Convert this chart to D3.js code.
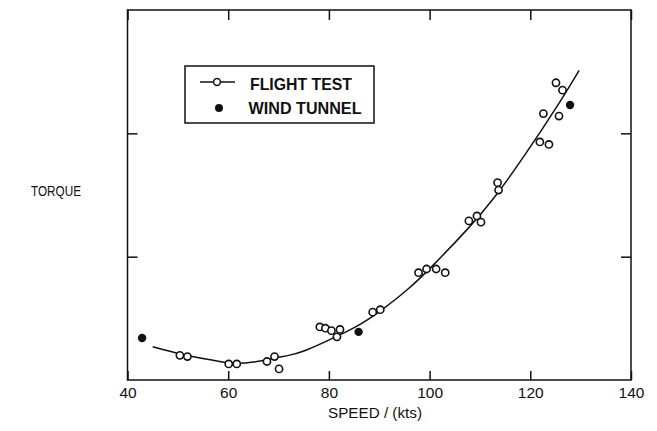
<!DOCTYPE html>
<html>
<head>
<meta charset="utf-8">
<script src="https://cdn.jsdelivr.net/npm/d3@7"></script>
<style>
  body { margin: 0; background: white; }
  text { font-family: "Liberation Sans", Arial, sans-serif; fill: #111; }
</style>
</head>
<body>
<div id="container"></div>
<script>
let w = 657;
let h = 431;

// data
let xTicks = [40, 60, 80, 100, 120, 140];
let yTicks = [1, 2];

let flightSpeed = [50.4, 51.9, 60.1, 61.7, 67.7, 69.2, 70.1, 78.2, 79.3, 80.5, 82.2, 81.6,
  88.7, 90.2, 97.8, 99.4, 101.3, 103.1, 107.8, 109.4, 110.2, 113.5, 113.7,
  121.9, 123.7, 122.6, 125.7, 125.1, 126.4];
let flightTorque = [0.20, 0.19, 0.13, 0.13, 0.15, 0.19, 0.09, 0.43, 0.42, 0.40, 0.41, 0.35,
  0.55, 0.57, 0.87, 0.90, 0.90, 0.87, 1.29, 1.33, 1.28, 1.60, 1.54,
  1.93, 1.91, 2.16, 2.14, 2.41, 2.35];

let tunnelSpeed = [42.9, 85.9, 127.9];
let tunnelTorque = [0.34, 0.39, 2.23];

let curveSpeed = [45, 50.4, 57, 60.8, 65, 69.2, 72.3, 74.9, 78.2, 85.7, 90.3, 95.7, 100.5, 108, 112.6, 118.6, 126.5, 129.7];
let curveTorque = [0.27, 0.21, 0.16, 0.13, 0.14, 0.18, 0.20, 0.23, 0.29, 0.43, 0.56, 0.73, 0.92, 1.24, 1.46, 1.80, 2.29, 2.51];

// plot box
let plotLeft = 127.5, plotRight = 631, plotTop = 10, plotBottom = 380;

let viz = d3.select("#container")
  .append("svg")
    .attr("width", w)
    .attr("height", h)
    .style("background-color", "white");

let xScale = d3.scaleLinear().domain([40, 140]).range([plotLeft, plotRight]);
let yScale = d3.scaleLinear().domain([0, 3]).range([plotBottom, plotTop]);

// frame
viz.append("rect")
  .attr("x", plotLeft).attr("y", plotTop)
  .attr("width", plotRight - plotLeft).attr("height", plotBottom - plotTop)
  .attr("fill", "none").attr("stroke", "#111").attr("stroke-width", 1.5);

// bottom axis, ticks point inward
let xAxis = d3.axisBottom(xScale).tickValues(xTicks).tickSize(-9).tickFormat(d3.format("d"));
let xAxisGroup = viz.append("g").attr("class", "xaxis")
  .attr("transform", "translate(0," + plotBottom + ")")
  .call(xAxis);
// top axis
viz.append("g").attr("class", "xaxis-top")
  .attr("transform", "translate(0," + plotTop + ")")
  .call(d3.axisTop(xScale).tickValues(xTicks).tickSize(-10).tickFormat(""));
// left and right
viz.append("g")
  .attr("transform", "translate(" + plotLeft + ",0)")
  .call(d3.axisLeft(yScale).tickValues(yTicks).tickSize(-10).tickFormat(""));
viz.append("g")
  .attr("transform", "translate(" + plotRight + ",0)")
  .call(d3.axisRight(yScale).tickValues(yTicks).tickSize(-10).tickFormat(""));

viz.selectAll(".domain").remove();
viz.selectAll(".tick line").attr("stroke", "#111").attr("stroke-width", 1.5);
xAxisGroup.selectAll(".tick text")
  .attr("y", 18)
  .attr("dy", 0)
  .attr("font-size", 15.5)
  .attr("fill", "#111")
  .style("font-family", "'Liberation Sans', Arial, sans-serif");

// axis titles
viz.append("text")
  .attr("x", 328).attr("y", 417.5)
  .attr("font-size", 14)
  .attr("textLength", 94)
  .attr("lengthAdjust", "spacingAndGlyphs")
  .text("SPEED / (kts)");

viz.append("text")
  .attr("x", 31).attr("y", 196)
  .attr("font-size", 15)
  .attr("textLength", 50)
  .attr("lengthAdjust", "spacingAndGlyphs")
  .text("TORQUE");

// fitted curve
let curveData = curveSpeed.map((s, i) => ({x: s, y: curveTorque[i]}));
let line = d3.line()
  .x(d => xScale(d.x))
  .y(d => yScale(d.y))
  .curve(d3.curveBasis);
viz.append("path")
  .datum(curveData)
  .attr("d", line)
  .attr("fill", "none")
  .attr("stroke", "#111")
  .attr("stroke-width", 1.5);

// flight test points
let flight = flightSpeed.map((s, i) => ({x: s, y: flightTorque[i]}));
viz.selectAll(".flight").data(flight).enter()
  .append("circle")
    .attr("class", "flight")
    .attr("cx", d => xScale(d.x))
    .attr("cy", d => yScale(d.y))
    .attr("r", 3.6)
    .attr("fill", "white")
    .attr("stroke", "#111")
    .attr("stroke-width", 1.6);

// wind tunnel points
let tunnel = tunnelSpeed.map((s, i) => ({x: s, y: tunnelTorque[i]}));
viz.selectAll(".tunnel").data(tunnel).enter()
  .append("circle")
    .attr("class", "tunnel")
    .attr("cx", d => xScale(d.x))
    .attr("cy", d => yScale(d.y))
    .attr("r", 4.2)
    .attr("fill", "#111");

// legend
let legend = viz.append("g").attr("class", "legend");
legend.append("rect")
  .attr("x", 185).attr("y", 66)
  .attr("width", 189).attr("height", 57)
  .attr("fill", "white").attr("stroke", "#111").attr("stroke-width", 1.5);
legend.append("line")
  .attr("x1", 200).attr("x2", 235).attr("y1", 82).attr("y2", 82)
  .attr("stroke", "#111").attr("stroke-width", 1.5);
legend.append("circle")
  .attr("cx", 217).attr("cy", 82).attr("r", 3.4)
  .attr("fill", "white").attr("stroke", "#111").attr("stroke-width", 1.5);
legend.append("circle")
  .attr("cx", 219).attr("cy", 108).attr("r", 4)
  .attr("fill", "#111");
legend.append("text")
  .attr("x", 250).attr("y", 89.5)
  .attr("font-size", 17).attr("font-weight", "bold")
  .attr("textLength", 102)
  .attr("lengthAdjust", "spacingAndGlyphs")
  .text("FLIGHT TEST");
legend.append("text")
  .attr("x", 248.5).attr("y", 113.5)
  .attr("font-size", 17).attr("font-weight", "bold")
  .attr("textLength", 113)
  .attr("lengthAdjust", "spacingAndGlyphs")
  .text("WIND TUNNEL");
</script>
</body>
</html>
